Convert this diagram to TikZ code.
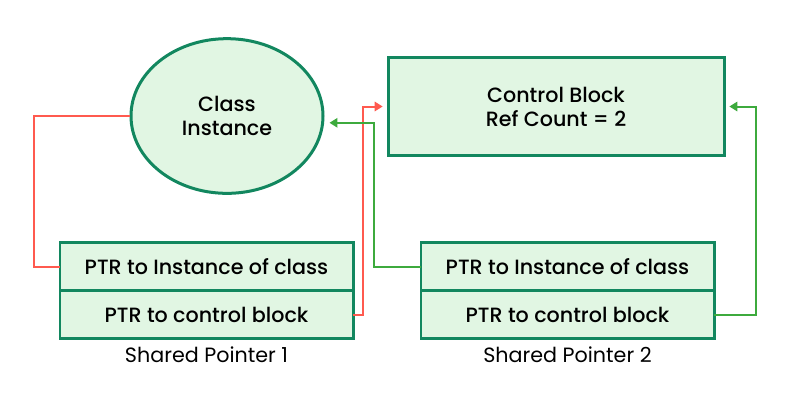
\documentclass[tikz,border=0pt]{standalone}
\usepackage{fontspec}
\setmainfont{Poppins}[BoldFont={Poppins Medium}]
\usetikzlibrary{positioning, arrows.meta, shapes.geometric, calc}
\definecolor{boxline}{HTML}{12875F}
\definecolor{boxfill}{HTML}{E1F6E3}
\definecolor{linkred}{HTML}{FF5A4F}
\definecolor{linkgreen}{HTML}{3DAA3D}
\tikzset{
every node/.style = {font = \fontsize{15.5}{18}\selectfont\bfseries},
instance/.style = {ellipse, draw = boxline, fill = boxfill, line width = 2.25pt,
   minimum width = 144pt, minimum height = 116pt, align = center, inner sep = 0pt},
control/.style = {rectangle, draw = boxline, fill = boxfill, line width = 2.25pt,
   minimum width = 252pt, minimum height = 74pt, align = center, outer sep = 0pt},
field/.style = {rectangle, draw = boxline, fill = boxfill, line width = 2pt,
   minimum width = 220pt, minimum height = 36pt, outer sep = 0pt, inner sep = 0pt},
caption/.style = {font = \fontsize{15.5}{18}\selectfont, inner sep = 0pt},
link/.style = {line width = 1.5pt},
pointer/.style = {link, -{Triangle[length = 6pt, width = 7pt]}, shorten > = 4pt}
}

\begin{document}
\begin{tikzpicture}[x = 0.75pt, y = -0.75pt]
\useasboundingbox (0,0) rectangle (800,405);

%% Objects
\node [instance] (inst) at (227,116) {Class\\Instance};
\node [control] (ctrl) at (556,106.5) {Control Block\\Ref Count = 2};

%% Shared pointers
\node [field] (sp1a) at (206.5,266.5) {PTR to Instance of class};
\node [field] (sp1b) [below = 0pt of sp1a] {PTR to control block};
\node [caption] (cap1) [below = 6pt of sp1b] {Shared Pointer 1};

\node [field] (sp2a) at (567.5,266.5) {PTR to Instance of class};
\node [field] (sp2b) [below = 0pt of sp2a] {PTR to control block};
\node [caption] (cap2) [below = 6pt of sp2b] {Shared Pointer 2};

%% Links - pointer 1
\draw [link, linkred] (inst.west) -- ++(-96,0) |- (sp1a.west);
\draw [pointer, linkred] (sp1b.east) -- ++(10,0) |- (ctrl.west);

%% Links - pointer 2
\draw [pointer, linkgreen] (sp2a.west) -- ++(-47,0) |- (inst.-4);
\draw [pointer, linkgreen] (sp2b.east) -- ++(42,0) |- (ctrl.east);

\end{tikzpicture}
\end{document}
